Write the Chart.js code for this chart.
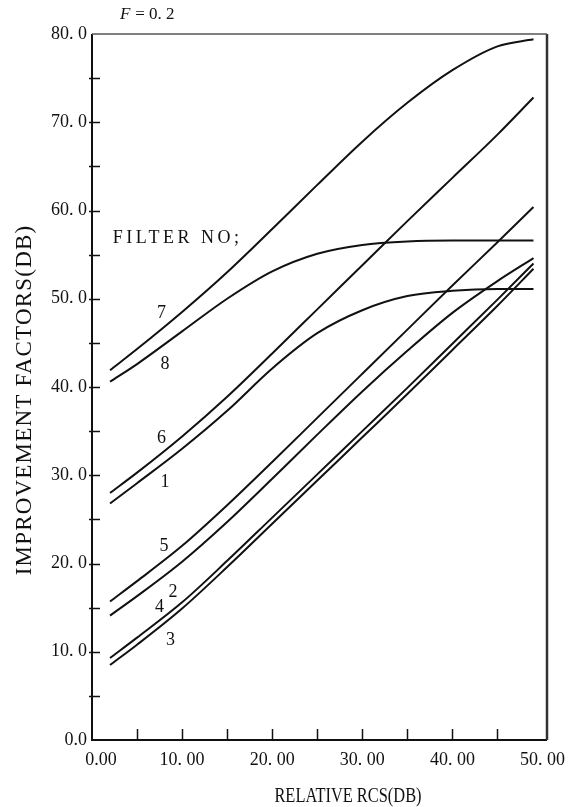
<!DOCTYPE html>
<html>
<head>
<meta charset="utf-8">
<script src="https://cdn.jsdelivr.net/npm/chart.js@4.4.1/dist/chart.umd.min.js"></script>
<style>
  html, body { margin: 0; padding: 0; background: #fff; }
  #wrap { width: 577px; height: 807px; }
</style>
</head>
<body>
<div id="wrap"><canvas id="myChart" width="577" height="807"></canvas></div>
<script>
// relative RCS (dB) sample points, shared by all curves
var rcs = [2, 5, 10, 15, 20, 25, 30, 35, 40, 45, 49];

// improvement factor (dB) per filter
var filter7 = [41.9, 44.3, 48.5, 53.0, 57.9, 62.9, 67.8, 72.2, 75.9, 78.6, 79.4];
var filter8 = [40.6, 42.6, 46.3, 50.0, 53.1, 55.1, 56.1, 56.5, 56.6, 56.6, 56.6];
var filter6 = [28.0, 30.3, 34.4, 38.9, 43.8, 48.8, 53.8, 58.8, 63.7, 68.6, 72.8];
var filter1 = [26.8, 29.1, 33.0, 37.3, 42.1, 46.1, 48.7, 50.3, 50.9, 51.1, 51.1];
var filter5 = [15.7, 18.0, 22.0, 26.6, 31.5, 36.5, 41.5, 46.5, 51.5, 56.4, 60.4];
var filter2 = [14.1, 16.3, 20.2, 24.7, 29.6, 34.6, 39.5, 44.1, 48.4, 52.0, 54.6];
var filter4 = [9.3, 11.6, 15.6, 20.3, 25.2, 30.1, 35.0, 39.9, 44.9, 49.9, 54.0];
var filter3 = [8.5, 10.8, 14.9, 19.6, 24.5, 29.4, 34.3, 39.2, 44.2, 49.2, 53.4];

// axis ticks
var xTickValues = [0, 5, 10, 15, 20, 25, 30, 35, 40, 45, 50];
var xTickLabels = ['    0.00', '', '10. 00', '', '20. 00', '', '30. 00', '', '40. 00', '', '50. 00'];
var yTickValues = [0, 5, 10, 15, 20, 25, 30, 35, 40, 45, 50, 55, 60, 65, 70, 75, 80];
var yTickLabels = ['0.0', '', '10. 0', '', '20. 0', '', '30. 0', '', '40. 0', '', '50. 0', '', '60. 0', '', '70. 0', '', '80. 0'];

var seriesNames = ['7', '8', '6', '1', '5', '2', '4', '3'];
var seriesValues = [filter7, filter8, filter6, filter1, filter5, filter2, filter4, filter3];

// where the curve numbers sit, in data units
var curveTags = {
  '7': [7.7, 48.4], '8': [8.1, 42.6], '6': [7.7, 34.2], '1': [8.1, 29.2],
  '5': [8.0, 21.9], '2': [9.0, 16.7], '4': [7.5, 15.0], '3': [8.7, 11.3]
};

var serif = '"Liberation Serif", "DejaVu Serif", serif';
var ink = '#111';

var datasets = seriesNames.map(function (name, i) {
  return {
    label: 'Filter ' + name,
    data: rcs.map(function (x, j) { return { x: x, y: seriesValues[i][j] }; }),
    borderColor: ink,
    borderWidth: 2,
    pointRadius: 0,
    fill: false,
    cubicInterpolationMode: 'monotone'
  };
});

var decor = {
  id: 'decor',
  afterDatasetsDraw: function (chart) {
    var ctx = chart.ctx;
    var a = chart.chartArea;
    var xs = chart.scales.x, ys = chart.scales.y;
    ctx.save();
    ctx.strokeStyle = ink;
    ctx.lineCap = 'butt';

    // frame
    ctx.lineWidth = 2;
    ctx.beginPath(); ctx.moveTo(a.left, a.top); ctx.lineTo(a.left, a.bottom); ctx.lineTo(a.right, a.bottom); ctx.stroke();
    ctx.lineWidth = 2.5;
    ctx.strokeStyle = '#333';
    ctx.beginPath(); ctx.moveTo(a.right, a.bottom); ctx.lineTo(a.right, a.top); ctx.stroke();
    ctx.lineWidth = 1.5;
    ctx.strokeStyle = '#555';
    ctx.beginPath(); ctx.moveTo(a.left, a.top); ctx.lineTo(a.right, a.top); ctx.stroke();

    // inward tick marks
    ctx.strokeStyle = ink;
    ctx.lineWidth = 1.5;
    yTickValues.forEach(function (v) {
      if (v === 0 || v === 80) return;
      var y = Math.round(ys.getPixelForValue(v)) + 0.5;
      ctx.beginPath(); ctx.moveTo(a.left - 3, y); ctx.lineTo(a.left + 8, y); ctx.stroke();
    });
    xTickValues.forEach(function (v) {
      if (v === 0 || v === 50) return;
      var x = Math.round(xs.getPixelForValue(v)) + 0.5;
      ctx.beginPath(); ctx.moveTo(x, a.bottom); ctx.lineTo(x, a.bottom - 11); ctx.stroke();
    });

    ctx.fillStyle = ink;
    ctx.textBaseline = 'middle';
    ctx.textAlign = 'center';
    ctx.font = '18px ' + serif;
    Object.keys(curveTags).forEach(function (k) {
      var p = curveTags[k];
      ctx.fillText(k, xs.getPixelForValue(p[0]), ys.getPixelForValue(p[1]));
    });

    ctx.textAlign = 'left';
    ctx.font = '18px ' + serif;
    ctx.letterSpacing = '3.5px';
    ctx.fillText('FILTER NO;', xs.getPixelForValue(2.3), ys.getPixelForValue(56.9));
    ctx.letterSpacing = '0px';

    ctx.font = 'italic 17px ' + serif;
    ctx.fillText('F', 120, a.top - 19);
    ctx.font = '17px ' + serif;
    ctx.fillText(' = 0. 2', 131, a.top - 19);

    // axis titles
    ctx.textAlign = 'center';
    ctx.save();
    ctx.translate(348, 797);
    ctx.scale(0.82, 1);
    ctx.font = '20px ' + serif;
    ctx.fillText('RELATIVE RCS(DB)', 0, 0);
    ctx.restore();
    ctx.translate(25, 400);
    ctx.rotate(-Math.PI / 2);
    ctx.font = '23px ' + serif;
    ctx.letterSpacing = '1.2px';
    ctx.fillText('IMPROVEMENT FACTORS(DB)', 0, 0);
    ctx.restore();
  }
};

var ctx = document.getElementById('myChart').getContext('2d');
var myChart = new Chart(ctx, {
  type: 'line',
  data: { datasets: datasets },
  options: {
    responsive: false,
    animation: false,
    devicePixelRatio: 1,
    layout: { padding: { left: 0, top: 34, right: 30, bottom: 0 } },
    plugins: { legend: { display: false }, tooltip: { enabled: false } },
    scales: {
      x: {
        type: 'linear',
        min: 0,
        max: 50.5,
        grid: { display: false, drawTicks: false },
        border: { display: false },
        afterBuildTicks: function (scale) { scale.ticks = xTickValues.map(function (v) { return { value: v }; }); },
        afterFit: function (scale) { scale.height = 67; },
        ticks: {
          autoSkip: false,
          maxRotation: 0,
          padding: 9,
          color: ink,
          font: { family: serif, size: 18 },
          callback: function (value, index) { return xTickLabels[index]; }
        }
      },
      y: {
        type: 'linear',
        min: 0,
        max: 80,
        grid: { display: false, drawTicks: false },
        border: { display: false },
        afterBuildTicks: function (scale) { scale.ticks = yTickValues.map(function (v) { return { value: v }; }); },
        afterFit: function (scale) { scale.width = 92; },
        ticks: {
          autoSkip: false,
          padding: 5,
          color: ink,
          font: { family: serif, size: 18 },
          callback: function (value, index) { return yTickLabels[index]; }
        }
      }
    }
  },
  plugins: [decor]
});
</script>
</body>
</html>
